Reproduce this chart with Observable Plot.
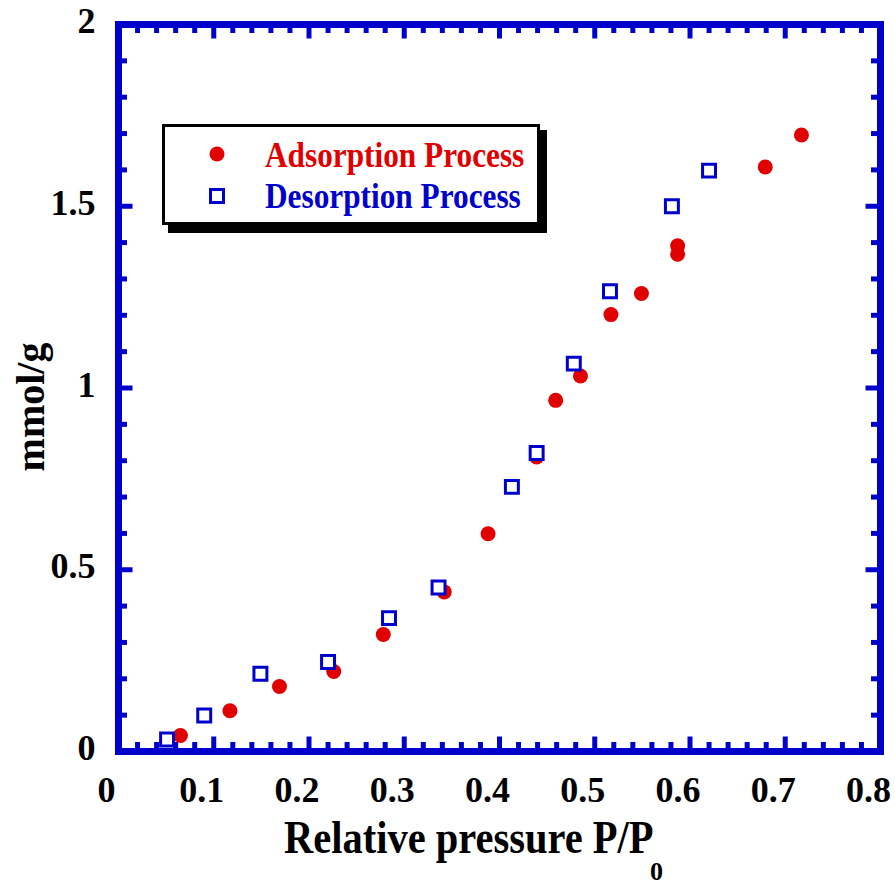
<!DOCTYPE html>
<html><head><meta charset="utf-8">
<script src="https://cdn.jsdelivr.net/npm/d3@7"></script>
<script src="https://cdn.jsdelivr.net/npm/@observablehq/plot@0.6"></script>
<style>body{margin:0;background:#fff} svg{display:block}</style>
</head><body><div id="chart"></div>
<script>
// Data
const adsX = [0.065, 0.117, 0.169, 0.226, 0.278, 0.342, 0.388, 0.439, 0.459, 0.485, 0.517, 0.549, 0.587, 0.587, 0.679, 0.717];
const adsY = [0.044, 0.112, 0.179, 0.220, 0.322, 0.439, 0.599, 0.810, 0.966, 1.033, 1.202, 1.260, 1.368, 1.391, 1.608, 1.696];
const desX = [0.051, 0.090, 0.149, 0.220, 0.284, 0.336, 0.413, 0.439, 0.478, 0.516, 0.581, 0.620];
const desY = [0.033, 0.099, 0.214, 0.246, 0.367, 0.451, 0.728, 0.821, 1.067, 1.266, 1.500, 1.598];
const xTickValues = [0, 0.1, 0.2, 0.3, 0.4, 0.5, 0.6, 0.7, 0.8];
const xTickLabels = ["0", "0.1", "0.2", "0.3", "0.4", "0.5", "0.6", "0.7", "0.8"];
const yTickValues = [0, 0.5, 1, 1.5, 2];
const yTickLabels = ["0", "0.5", "1", "1.5", "2"];
const xTitle = "Relative pressure P/P";
const xTitleSub = "0";
const yTitle = "mmol/g";
const legendLabels = ["Adsorption Process", "Desorption Process"];

const W = 895, H = 886, mL = 118, mR = 15, mT = 24, mB = 135;
const plotH = H - mT - mB, plotW = W - mL - mR;
const BLUE = "#0000cc", RED = "#e00000";
const FONT = '"Liberation Serif","Times New Roman",Times,serif';
const MAJ = 14.5, MIN = 9, TW = 5;

const near = (arr, v) => arr.some(t => Math.abs(t - v) < 1e-9);
const xMinor = d3.range(0, 41).map(i => i / 50).filter(v => !near(xTickValues, v));
const yMinor = d3.range(0, 21).map(i => i / 10).filter(v => !near(yTickValues, v));

const ads = adsX.map((x, i) => ({x, y: adsY[i]}));
const des = desX.map((x, i) => ({x, y: desY[i]}));

const chart = Plot.plot({
  width: W, height: H,
  marginLeft: mL, marginRight: mR, marginTop: mT, marginBottom: mB,
  x: {domain: [0, 0.8]},
  y: {domain: [0, 2]},
  style: {fontFamily: FONT, fontWeight: "bold", fontSize: "36px", background: "white", color: "black"},
  marks: [
    Plot.tickX(xTickValues, {x: d => d, stroke: BLUE, strokeWidth: TW, insetTop: plotH - MAJ}),
    Plot.tickX(xTickValues, {x: d => d, stroke: BLUE, strokeWidth: TW, insetBottom: plotH - MAJ}),
    Plot.tickX(xMinor, {x: d => d, stroke: BLUE, strokeWidth: TW, insetTop: plotH - MIN}),
    Plot.tickX(xMinor, {x: d => d, stroke: BLUE, strokeWidth: TW, insetBottom: plotH - MIN}),
    Plot.tickY(yTickValues, {y: d => d, stroke: BLUE, strokeWidth: TW, insetRight: plotW - MAJ}),
    Plot.tickY(yTickValues, {y: d => d, stroke: BLUE, strokeWidth: TW, insetLeft: plotW - MAJ}),
    Plot.tickY(yMinor, {y: d => d, stroke: BLUE, strokeWidth: TW, insetRight: plotW - MIN}),
    Plot.tickY(yMinor, {y: d => d, stroke: BLUE, strokeWidth: TW, insetLeft: plotW - MIN}),
    Plot.frame({stroke: BLUE, strokeWidth: 7}),
    Plot.axisX(xTickValues, {tickSize: 0, tickPadding: 25, dx: -12, label: null,
      tickFormat: d => xTickLabels[xTickValues.indexOf(d)], fontSize: 36, fontWeight: "bold", fill: "black"}),
    Plot.axisY(yTickValues, {tickSize: 0, tickPadding: 23, dy: -3, label: null,
      tickFormat: d => yTickLabels[yTickValues.indexOf(d)], fontSize: 36, fontWeight: "bold", fill: "black"}),
    Plot.dot(ads, {x: "x", y: "y", r: 7.5, fill: RED}),
    Plot.dot(des, {x: "x", y: "y", r: 7.3, symbol: "square", stroke: BLUE, strokeWidth: 3, fill: "white"})
  ]
});

const svg = d3.select(chart);
function stretchedText(parent, x, y, sy, size, color, str) {
  return parent.append("text")
    .attr("transform", `translate(${x},${y}) scale(1,${sy})`)
    .attr("text-anchor", "start")
    .attr("font-family", FONT).attr("font-weight", "bold")
    .attr("font-size", size).attr("fill", color)
    .text(str);
}
// Axis titles
stretchedText(svg, 284, 853, 1.14, 40.5, "black", xTitle);
stretchedText(svg, 650, 880, 1, 26, "black", xTitleSub);
svg.append("text").attr("transform", "translate(44,407) rotate(-90)")
  .attr("text-anchor", "middle")
  .attr("font-family", FONT).attr("font-weight", "bold").attr("font-size", 40).attr("fill", "black")
  .text(yTitle);

// Legend
const lg = svg.append("g");
lg.append("rect").attr("x", 168).attr("y", 130).attr("width", 379).attr("height", 103).attr("fill", "black");
lg.append("rect").attr("x", 163.5).attr("y", 125.5).attr("width", 375).attr("height", 98)
  .attr("fill", "white").attr("stroke", "black").attr("stroke-width", 3);
lg.append("circle").attr("cx", 217).attr("cy", 154).attr("r", 7.5).attr("fill", RED);
lg.append("rect").attr("x", 210.5).attr("y", 189.5).attr("width", 13).attr("height", 13)
  .attr("fill", "white").attr("stroke", BLUE).attr("stroke-width", 3);
stretchedText(lg, 265, 167, 1.12, 31.3, RED, legendLabels[0]);
stretchedText(lg, 265, 208, 1.12, 31.3, BLUE, legendLabels[1]);

document.getElementById("chart").append(chart);
</script>
</body></html>
